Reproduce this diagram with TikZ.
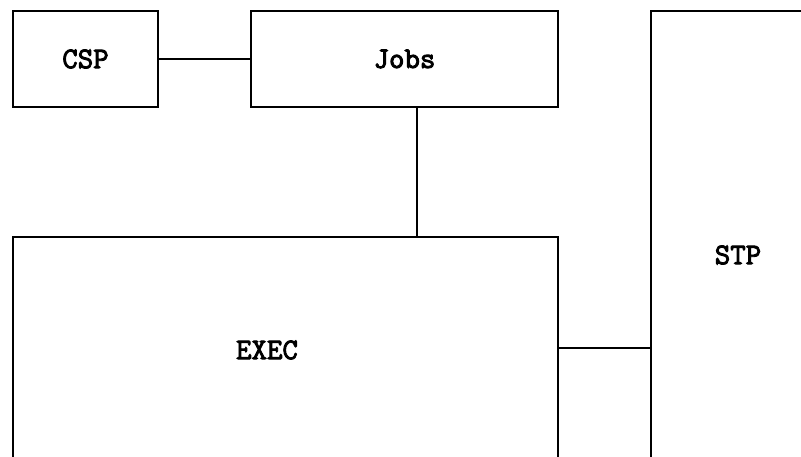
\documentclass[tikz,border=0pt]{standalone}
\usepackage{fontspec}
\newfontfamily\boxfont[FakeBold=3]{Latin Modern Mono}
\usetikzlibrary{positioning}

\begin{document}
\begin{tikzpicture}[x=1pt,y=-1pt]

            \tikzstyle{blockBox} = [draw, line width=2.6pt, inner sep=0pt];
            \tikzstyle{blockText} = [font=\boxfont\fontsize{30}{35}\selectfont\bfseries];
            \tikzstyle{link} = [line width=2.6pt];

            \useasboundingbox (0,0) rectangle (801,457);
            \clip (0,0) rectangle (801,457);

            \node[blockBox, blockText, minimum width=145pt, minimum height=96pt] (csp) at (85.5,59) {CSP};
            \node[blockBox, blockText, minimum width=307pt, minimum height=96pt] (jobs) at (404.5,59) {Jobs};
            \node[blockBox, minimum width=545pt, minimum height=222pt] (exec) at (285.5,348) {};
            \node[blockBox, minimum width=174pt, minimum height=674pt] (stp) at (738,348) {};

            \node[blockText] (execLabel) at (267,350) {EXEC};
            \node[blockText] (stpLabel) at (738,255) {STP};

            \draw[link] (csp.east) -- (jobs.west);
            \draw[link] ([xshift=12.5pt]jobs.south) -- ([xshift=12.5pt]jobs.south |- exec.north);
            \draw[link] (exec.east) -- (exec.east -| stp.west);
          \end{tikzpicture}
\end{document}
